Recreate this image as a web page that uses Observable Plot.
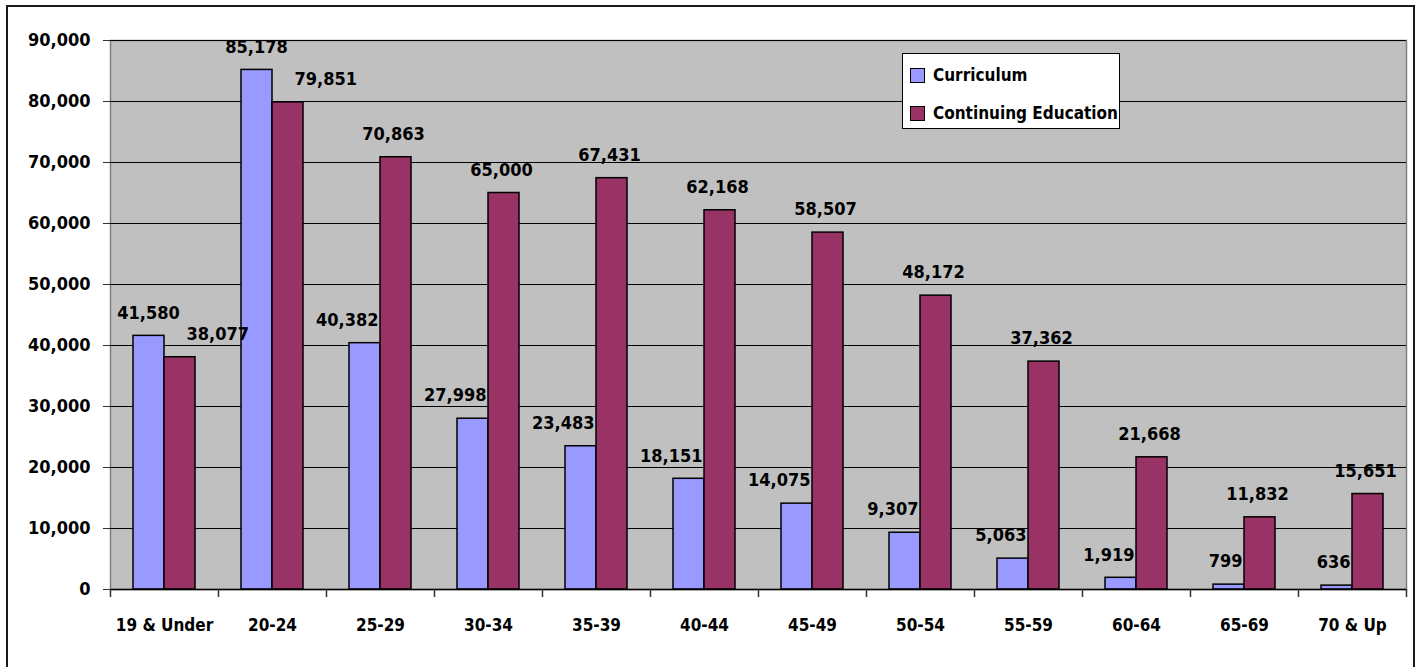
<!DOCTYPE html>
<html>
<head>
<meta charset="utf-8">
<script src="https://cdn.jsdelivr.net/npm/d3@7"></script>
<script src="https://cdn.jsdelivr.net/npm/@observablehq/plot@0.6"></script>
<style>
  html, body { margin: 0; padding: 0; background: #fff; }
  #wrap { position: relative; width: 1419px; height: 667px; overflow: hidden;
          font-family: "DejaVu Sans Condensed", "DejaVu Sans", sans-serif; font-stretch: condensed; }
  #border { position: absolute; left: 6px; top: 5px; width: 1409px; height: 680px;
            border: 2px solid #1a1a1a; box-sizing: border-box; pointer-events: none; }
  #chart { position: absolute; left: 0; top: 0; }
  #legend { position: absolute; left: 902px; top: 53px; width: 218px; height: 76px;
            background: #fff; border: 1px solid #000; box-sizing: border-box; }
  .row { position: absolute; left: 7px; display: flex; align-items: center;
         font-weight: bold; font-size: 17px; color: #000; }
  .sw { width: 13px; height: 13px; border: 1px solid #000; margin-right: 8px; }
</style>
</head>
<body>
<div id="wrap">
  <div id="chart"></div>
  <div id="legend"></div>
  <div id="border"></div>
</div>
<script>
// Headcount by age group
const ages = ["19 & Under", "20-24", "25-29", "30-34", "35-39", "40-44",
              "45-49", "50-54", "55-59", "60-64", "65-69", "70 & Up"];
const curriculum = [41580, 85178, 40382, 27998, 23483, 18151, 14075, 9307, 5063, 1919, 799, 636];
const continuingEd = [38077, 79851, 70863, 65000, 67431, 62168, 58507, 48172, 37362, 21668, 11832, 15651];
const yTicks = [0, 10000, 20000, 30000, 40000, 50000, 60000, 70000, 80000, 90000];
const seriesNames = ["Curriculum", "Continuing Education"];
const seriesColors = ["#9999FF", "#993366"];

const rows = ages.map((age, i) => ({age, cur: curriculum[i], ce: continuingEd[i]}));
const fmt = d3.format(",");
const font = {fontSize: 18, fontWeight: "bold", fill: "#000"};

const chart = Plot.plot({
  width: 1419,
  height: 667,
  marginLeft: 110,
  marginRight: 13,
  marginTop: 40,
  marginBottom: 78,
  style: {background: "transparent", fontFamily: "'DejaVu Sans Condensed', 'DejaVu Sans', sans-serif", overflow: "visible"},
  x: {domain: ages, padding: 0, label: null},
  y: {domain: [0, 90000], label: null},
  marks: [
    Plot.frame({fill: "#C0C0C0", stroke: "#808080", strokeWidth: 1.5}),
    Plot.gridY(yTicks.filter(t => t > 0), {stroke: "#000", strokeOpacity: 1, strokeWidth: 1.2}),
    // Curriculum bars occupy the left half of each group, Continuing Education the right half
    Plot.barY(rows, {x: "age", y: "cur", fill: seriesColors[0], stroke: "#000", strokeWidth: 1.5,
                     insetLeft: 23, insetRight: 54}),
    Plot.barY(rows, {x: "age", y: "ce", fill: seriesColors[1], stroke: "#000", strokeWidth: 1.5,
                     insetLeft: 54, insetRight: 23}),
    Plot.ruleY([0], {stroke: "#000", strokeWidth: 1.5}),
    Plot.axisY(yTicks, {tickSize: 7, tickPadding: 13, tickFormat: fmt, stroke: "#333", label: null,
                        fontSize: 18, fontWeight: "bold", fill: "#000"}),
    Plot.axisX({tickSize: 0, tickPadding: 29, label: null, fontSize: 17, fontWeight: "bold", fill: "#000"}),
    // tick marks between category groups
    Plot.axisX(ages, {tickSize: 8, tickFormat: () => "", label: null, dx: -54, stroke: "#333", strokeWidth: 1.5}),
    Plot.axisX(ages.slice(-1), {tickSize: 8, tickFormat: () => "", label: null, dx: 54, stroke: "#333", strokeWidth: 1.5}),
    // value labels
    Plot.text(rows.filter(d => d.cur >= d.ce), {x: "age", y: "cur", text: d => fmt(d.cur),
                     dx: -16, dy: -23, textAnchor: "middle", ...font}),
    Plot.text(rows.filter(d => d.cur < d.ce), {x: "age", y: "cur", text: d => fmt(d.cur),
                     dx: -2, dy: -23, textAnchor: "end", ...font}),
    Plot.text(rows.filter(d => d.ce >= d.cur), {x: "age", y: "ce", text: d => fmt(d.ce),
                     dx: 13, dy: -23, textAnchor: "middle", ...font}),
    Plot.text(rows.filter(d => d.ce < d.cur), {x: "age", y: "ce", text: d => fmt(d.ce),
                     dx: 22, dy: -23, textAnchor: "start", ...font})
  ]
});
document.getElementById("chart").appendChild(chart);

// legend
const legend = document.getElementById("legend");
seriesNames.forEach((name, i) => {
  const row = document.createElement("div");
  row.className = "row";
  row.style.top = (i === 0 ? 11 : 49) + "px";
  row.innerHTML = `<span class="sw" style="background:${seriesColors[i]}"></span><span>${name}</span>`;
  legend.appendChild(row);
});
</script>
</body>
</html>
